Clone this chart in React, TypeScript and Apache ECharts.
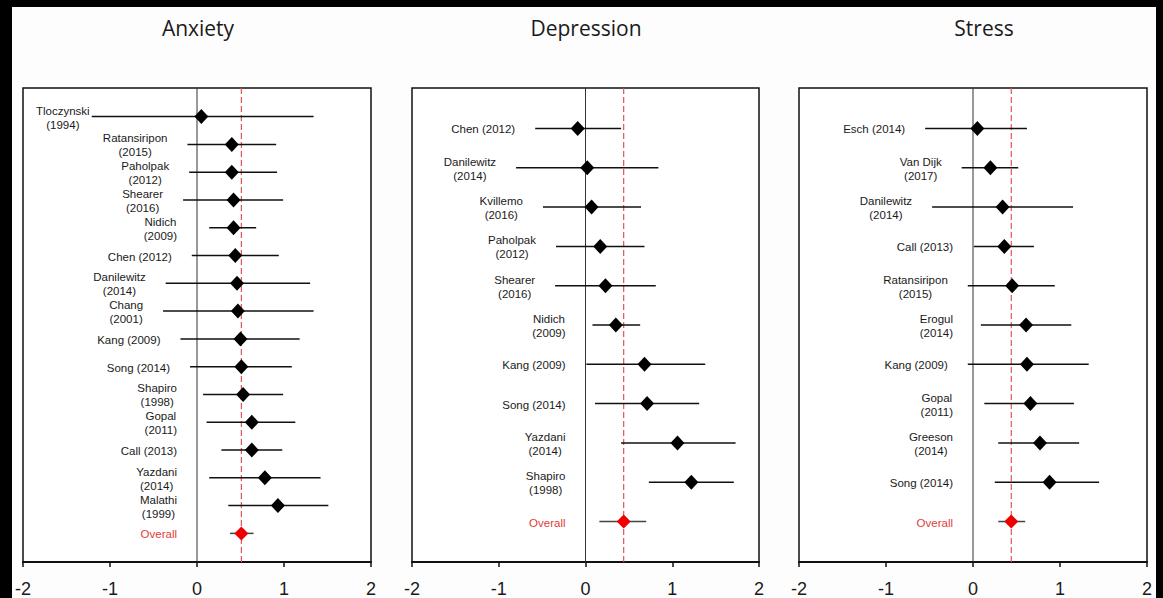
import React, { useEffect, useRef } from "react";
import * as echarts from "echarts";

const panelTitles = ["Anxiety", "Depression", "Stress"];

const anxietyStudies = [
  "Tloczynski\n(1994)", "Ratansiripon\n(2015)", "Paholpak\n(2012)", "Shearer\n(2016)",
  "Nidich\n(2009)", "Chen (2012)", "Danilewitz\n(2014)", "Chang\n(2001)", "Kang (2009)",
  "Song (2014)", "Shapiro\n(1998)", "Gopal\n(2011)", "Call (2013)", "Yazdani\n(2014)",
  "Malathi\n(1999)", "Overall",
];
const anxietyEst = [0.05, 0.40, 0.40, 0.42, 0.42, 0.44, 0.46, 0.47, 0.50, 0.51, 0.53, 0.63, 0.63, 0.78, 0.93, 0.51];
const anxietyLo = [-1.21, -0.11, -0.09, -0.16, 0.14, -0.06, -0.36, -0.39, -0.19, -0.08, 0.07, 0.11, 0.28, 0.14, 0.36, 0.38];
const anxietyHi = [1.34, 0.91, 0.92, 0.99, 0.68, 0.94, 1.30, 1.34, 1.18, 1.09, 0.99, 1.13, 0.98, 1.42, 1.51, 0.65];

const depressionStudies = [
  "Chen (2012)", "Danilewitz\n(2014)", "Kvillemo\n(2016)", "Paholpak\n(2012)", "Shearer\n(2016)",
  "Nidich\n(2009)", "Kang (2009)", "Song (2014)", "Yazdani\n(2014)", "Shapiro\n(1998)", "Overall",
];
const depressionEst = [-0.09, 0.02, 0.07, 0.17, 0.23, 0.35, 0.68, 0.71, 1.06, 1.22, 0.44];
const depressionLo = [-0.58, -0.80, -0.49, -0.34, -0.35, 0.08, 0.01, 0.11, 0.41, 0.73, 0.16];
const depressionHi = [0.41, 0.84, 0.64, 0.68, 0.81, 0.63, 1.38, 1.31, 1.73, 1.71, 0.70];

const stressStudies = [
  "Esch (2014)", "Van Dijk\n(2017)", "Danilewitz\n(2014)", "Call (2013)", "Ratansiripon\n(2015)",
  "Erogul\n(2014)", "Kang (2009)", "Gopal\n(2011)", "Greeson\n(2014)", "Song (2014)", "Overall",
];
const stressEst = [0.05, 0.20, 0.34, 0.36, 0.45, 0.61, 0.62, 0.66, 0.77, 0.88, 0.44];
const stressLo = [-0.55, -0.13, -0.47, 0.01, -0.06, 0.09, -0.06, 0.13, 0.29, 0.25, 0.29];
const stressHi = [0.62, 0.52, 1.15, 0.70, 0.94, 1.13, 1.33, 1.16, 1.22, 1.45, 0.60];

const xMin = -2;
const xMax = 2;
const xInterval = 1;
const nullEffect = 0;

const FONT = '"Liberation Sans", Arial, sans-serif';
const LABEL_SIZE = 11.5;

let measureCtx: CanvasRenderingContext2D | null = null;
function textWidth(s: string, size: number): number {
  if (!measureCtx) measureCtx = document.createElement("canvas").getContext("2d");
  const ctx = measureCtx!;
  ctx.font = `${size}px "Liberation Sans", Arial, sans-serif`;
  return Math.max(...s.split("\n").map((l) => ctx.measureText(l).width));
}

export default function App() {
  const ref = useRef<HTMLDivElement>(null);

  useEffect(() => {
    if (!ref.current) return;
    const chart = echarts.init(ref.current, undefined, { renderer: "svg" });

    const panels = [
      { names: anxietyStudies, est: anxietyEst, lo: anxietyLo, hi: anxietyHi },
      { names: depressionStudies, est: depressionEst, lo: depressionLo, hi: depressionHi },
      { names: stressStudies, est: stressEst, lo: stressLo, hi: stressHi },
    ];
    const gridLefts = [23, 412, 799];
    const gridWidths = [348, 347, 348];
    const titleX = [198, 586, 984];
    const pad = 1.03;

    const grid = panels.map((_, i) => ({
      left: gridLefts[i],
      top: 88,
      width: gridWidths[i],
      height: 474,
      show: true,
      backgroundColor: "#ffffff",
      borderColor: "#111",
      borderWidth: 1.5,
    }));

    const xAxis = panels.map((_, i) => ({
      type: "value",
      gridIndex: i,
      min: xMin,
      max: xMax,
      interval: xInterval,
      axisLine: { show: true, onZero: false, lineStyle: { color: "#111", width: 2 } },
      axisTick: { show: true, inside: false, length: 5, lineStyle: { color: "#111", width: 1.5 } },
      axisLabel: { fontSize: 18, color: "#1a1a1a", margin: 18, fontFamily: FONT },
      splitLine: { show: false },
    }));

    const yAxis = panels.map((p, i) => ({
      type: "value",
      gridIndex: i,
      inverse: true,
      min: -pad,
      max: p.names.length - 1 + pad,
      show: false,
    }));

    const series: any[] = [];
    panels.forEach((p, i) => {
      const last = p.names.length - 1;
      series.push({
        type: "custom",
        xAxisIndex: i,
        yAxisIndex: i,
        z: 2,
        silent: true,
        encode: { x: [0, 1], y: 2 },
        data: p.names.map((_, j) => [p.lo[j], p.hi[j], j, p.est[j]]),
        renderItem: (params: any, api: any) => {
          const lo = api.value(0);
          const hi = api.value(1);
          const row = api.value(2);
          const a = api.coord([lo, row]);
          const b = api.coord([hi, row]);
          const z0 = api.coord([nullEffect, row]);
          const cs = params.coordSys;
          const idx = params.dataIndex;
          const name = p.names[idx];
          const isOverall = idx === last;
          const w = textWidth(name, LABEL_SIZE);
          let right = Math.min(a[0], z0[0]) - 20;
          if (right - w < cs.x + 13) right = cs.x + 13 + w;
          const children: any[] = [];
          if (idx === 0) {
            const ov = api.coord([p.est[last], row]);
            children.push({
              type: "line",
              shape: { x1: z0[0], y1: cs.y, x2: z0[0], y2: cs.y + cs.height },
              style: { stroke: "#333", lineWidth: 1 },
            });
            children.push({
              type: "line",
              shape: { x1: ov[0], y1: cs.y, x2: ov[0], y2: cs.y + cs.height },
              style: { stroke: "#e25555", lineWidth: 1.2, lineDash: [6, 3] },
            });
          }
          children.push({
            type: "line",
            shape: { x1: a[0], y1: a[1], x2: b[0], y2: b[1] },
            style: { stroke: isOverall ? "#444" : "#111", lineWidth: 1.5 },
          });
          children.push({
            type: "text",
            x: right - w / 2,
            y: a[1] + 1,
            style: {
              text: name,
              align: "center",
              verticalAlign: "middle",
              fontSize: LABEL_SIZE,
              lineHeight: 14,
              fontFamily: FONT,
              fill: isOverall ? "#e23b3b" : "#1a1a1a",
            },
          });
          return { type: "group", children };
        },
      });
      series.push({
        type: "scatter",
        xAxisIndex: i,
        yAxisIndex: i,
        z: 3,
        silent: true,
        symbol: "diamond",
        data: p.est.map((v, j) => ({
          value: [v, j],
          symbolSize: j === last ? [14, 14] : [14, 15],
          itemStyle: { color: j === last ? "#ee0000" : "#000000", opacity: 1 },
        })),
      });
    });

    const graphic: any[] = [
      { type: "rect", shape: { x: 0, y: 0, width: 1163, height: 7 }, style: { fill: "#000" }, silent: true },
      { type: "rect", shape: { x: 0, y: 0, width: 12, height: 598 }, style: { fill: "#000" }, silent: true },
      { type: "rect", shape: { x: 1156, y: 0, width: 7, height: 598 }, style: { fill: "#000" }, silent: true },
      ...panelTitles.map((t, i) => ({
        type: "text",
        x: titleX[i],
        y: 28,
        silent: true,
        style: {
          text: t,
          align: "center",
          verticalAlign: "middle",
          fontSize: 21,
          fontFamily: '"Open Sans", "Noto Sans", sans-serif',
          fill: "#1a1a1a",
        },
      })),
    ];

    chart.setOption({
      animation: false,
      backgroundColor: "#fdfdfd",
      grid,
      xAxis,
      yAxis,
      series,
      graphic,
    });

    return () => chart.dispose();
  }, []);

  return (
    <div
      ref={ref}
      style={{ position: "absolute", left: 0, top: 0, width: 1163, height: 598 }}
    />
  );
}
